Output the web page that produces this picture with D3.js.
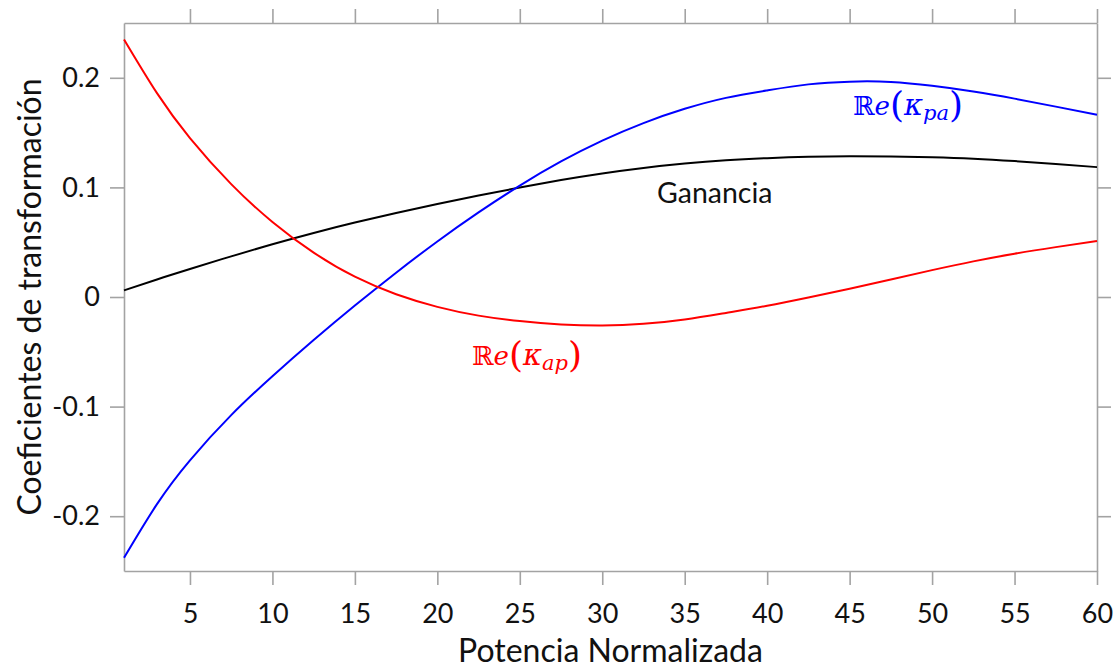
<!DOCTYPE html>
<html>
<head>
<meta charset="utf-8">
<script src="https://cdn.jsdelivr.net/npm/d3@7"></script>
<style>
  html, body { margin: 0; padding: 0; background: #fff; }
  svg { display: block; }
</style>
</head>
<body>
<svg id="chart" width="1117" height="669"></svg>
<script>
// Normalized power (x samples)
const potencia = [1, 3, 5, 7.5, 10, 12.5, 15, 17.5, 20, 22.5, 25, 27.5, 30,
  32.5, 35, 37.5, 40, 42.5, 45, 47.5, 50, 52.5, 55, 57.5, 60];

// Re(kappa_ap) – red
const reKappaAP = [0.235, 0.186, 0.145, 0.103, 0.0685, 0.0405, 0.0185, 0.0025, -0.009,
  -0.017, -0.022, -0.025, -0.026, -0.0245, -0.0205, -0.0145, -0.008, -0.0005, 0.0075,
  0.016, 0.0245, 0.0325, 0.0395, 0.0455, 0.051];

// Re(kappa_pa) – blue
const reKappaPA = [-0.238, -0.189, -0.149, -0.1078, -0.0723, -0.0393, -0.0078, 0.0222, 0.0507,
  0.0772, 0.1017, 0.1237, 0.1427, 0.1587, 0.1717, 0.1817, 0.1885, 0.194, 0.1965,
  0.1962, 0.1927, 0.1875, 0.181, 0.1737, 0.1662];

// Gain – black
const ganancia = [0.006, 0.016, 0.0256, 0.0371, 0.0481, 0.0584, 0.0679, 0.0766, 0.0849,
  0.0926, 0.0999, 0.1067, 0.1127, 0.1177, 0.1217, 0.1247, 0.1267, 0.128, 0.1285,
  0.1282, 0.1275, 0.1262, 0.124, 0.1213, 0.1185];

const xTicks = [5, 10, 15, 20, 25, 30, 35, 40, 45, 50, 55, 60];
const yTicks = [-0.2, -0.1, 0, 0.1, 0.2];

const svg = d3.select("#chart");
const m = { left: 124, top: 23, right: 1097, bottom: 571 };

const x = d3.scaleLinear().domain([1, 60]).range([m.left, m.right]);
const y = d3.scaleLinear().domain([-0.25, 0.25]).range([m.bottom, m.top]);

const axisColor = "#a3a3a3";
const textFont = "Lato, 'Open Sans', sans-serif";
const yFmt = d => d === 0 ? "0" : d.toFixed(1);

function styleAxis(g) {
  g.selectAll(".domain").attr("stroke", axisColor).attr("stroke-width", 1.6);
  g.selectAll(".tick line").attr("stroke", axisColor).attr("stroke-width", 1.6);
  g.selectAll(".tick text").attr("fill", "#111").style("font-family", textFont).style("font-size", "27px");
}

// bottom axis with labels
svg.append("g").attr("transform", `translate(0,${m.bottom})`)
  .call(d3.axisBottom(x).tickValues(xTicks).tickSize(14).tickSizeOuter(0).tickPadding(19))
  .call(styleAxis);

// top axis, ticks only
svg.append("g").attr("transform", `translate(0,${m.top})`)
  .call(d3.axisTop(x).tickValues(xTicks).tickSize(14).tickSizeOuter(0).tickFormat(""))
  .call(styleAxis);

// left axis with labels
svg.append("g").attr("transform", `translate(${m.left},0)`)
  .call(d3.axisLeft(y).tickValues(yTicks).tickFormat(yFmt).tickSize(14).tickSizeOuter(0).tickPadding(10))
  .call(styleAxis);

// right axis, ticks only
svg.append("g").attr("transform", `translate(${m.right},0)`)
  .call(d3.axisRight(y).tickValues(yTicks).tickSize(14).tickSizeOuter(0).tickFormat(""))
  .call(styleAxis);

// curves
const series = [
  { values: ganancia, color: "#000000" },
  { values: reKappaPA, color: "#0000ff" },
  { values: reKappaAP, color: "#ff0000" }
];

const line = d3.line()
  .x((d, i) => x(potencia[i]))
  .y(d => y(d))
  .curve(d3.curveNatural);

svg.append("g").selectAll("path")
  .data(series)
  .join("path")
  .attr("d", s => line(s.values))
  .attr("fill", "none")
  .attr("stroke", s => s.color)
  .attr("stroke-width", 2);

// axis titles
svg.append("text")
  .attr("x", (m.left + m.right) / 2)
  .attr("y", 662)
  .attr("text-anchor", "middle")
  .style("font-family", textFont)
  .style("font-size", "32px")
  .attr("fill", "#111")
  .text("Potencia Normalizada");

svg.append("text")
  .attr("transform", `translate(41,${(m.top + m.bottom) / 2}) rotate(-90)`)
  .attr("text-anchor", "middle")
  .style("font-family", textFont)
  .style("font-size", "32px")
  .attr("fill", "#111")
  .text("Coeficientes de transformación");

// curve labels
svg.append("text")
  .attr("x", 657)
  .attr("y", 203)
  .style("font-family", textFont)
  .style("font-size", "28.5px")
  .attr("fill", "#111")
  .text("Ganancia");

function mathLabel(px, py, color, sub) {
  const t = svg.append("text")
    .attr("x", px).attr("y", py)
    .attr("fill", color)
    .style("font-family", "'DejaVu Serif', 'Liberation Serif', serif")
    .style("font-size", "26px");
  t.append("tspan").text("ℝ");
  t.append("tspan").style("font-style", "italic").text("e");
  t.append("tspan").style("font-size", "36px").style("font-weight", "300").attr("dy", 2).text("(");
  t.append("tspan").style("font-style", "italic").style("font-size", "29px").attr("dy", -2).text("κ");
  t.append("tspan").style("font-style", "italic").style("font-size", "21px").attr("dy", 5).text(sub);
  t.append("tspan").style("font-size", "36px").attr("dy", -3).text(")");
}

mathLabel(853, 115, "#0000ff", "pa");
mathLabel(472, 365, "#ff0000", "ap");
</script>
</body>
</html>
